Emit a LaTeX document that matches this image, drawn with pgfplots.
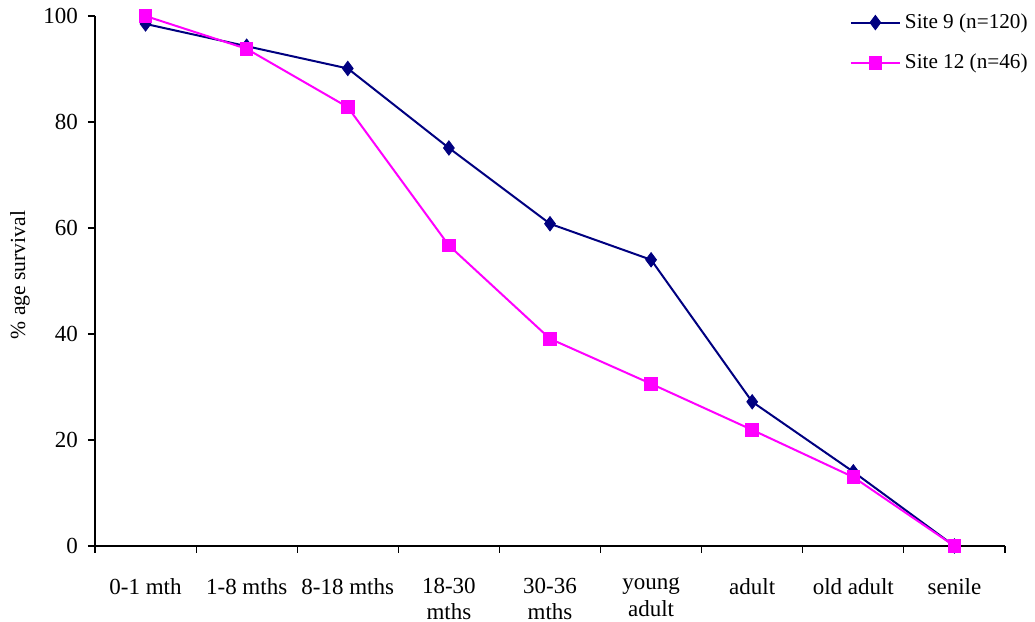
\documentclass[border=0pt]{standalone}
\usepackage{fontspec}
\setmainfont{Liberation Serif}
\usepackage{pgfplots}
\pgfplotsset{compat=1.18}
\definecolor{sitenavy}{RGB}{0,0,128}
\definecolor{sitemag}{RGB}{255,0,255}
\begin{document}
\fontsize{11.5}{13.5}\selectfont
\begin{tikzpicture}
\begin{axis}[
  scale only axis,
  width=455pt, height=265pt,
  xmin=-0.5, xmax=8.5,
  ymin=0, ymax=100,
  axis x line*=bottom,
  axis y line*=left,
  axis line style={line width=0.6pt},
  xtick={0,...,8},
  xticklabels={0-1 mth,1-8 mths,8-18 mths,18-30\\mths,30-36\\mths,young\\adult,adult,old adult,senile},
  xticklabel style={align=center, anchor=north, yshift=-8.5pt, font=\fontsize{11.5}{13.2}\selectfont},
  major x tick style={draw=none},
  minor xtick={-0.5,0.5,...,8.5},
  minor tick length=3.5pt,
  minor x tick style={line width=0.6pt, black},
  ytick={0,20,...,100},
  major tick length=3.5pt,
  tick align=outside,
  tick style={line width=0.6pt, black},
  yticklabel style={font=\fontsize{11.5}{13}\selectfont, xshift=-1pt},
  /pgf/number format/assume math mode=true,
  ylabel={\% age survival},
  ylabel style={font=\fontsize{10.8}{12}\selectfont, at={(rel axis cs:-0.0824,0.511)}, anchor=center},
  legend style={draw=none, fill=none, at={(rel axis cs:0.829,1.013)}, anchor=north west,
    font=\fontsize{10.6}{12}\selectfont, row sep=7.2pt, inner sep=0pt,
    /tikz/every even column/.append style={column sep=2pt}},
  legend cell align=left,
  legend image code/.code={\draw[mark repeat=2,mark phase=2] plot coordinates {(0pt,0pt)(12.3pt,0pt)(24.6pt,0pt)};},
  clip=false,
]
\addplot[color=sitenavy, line width=1pt, mark=diamond*, mark size=3.6pt, mark options={fill=sitenavy, draw=sitenavy, line width=0.4pt}]
  coordinates {(0,98.5) (1,94.3) (2,90.1) (3,75.1) (4,60.8) (5,54.0) (6,27.2) (7,14.0) (8,0)};
\addlegendentry{Site 9 (n=120)}
\addplot[color=sitemag, line width=1pt, mark=square*, mark size=2.9pt, mark options={fill=sitemag, draw=sitemag}]
  coordinates {(0,100) (1,93.8) (2,82.8) (3,56.7) (4,39.1) (5,30.6) (6,21.9) (7,13.0) (8,0)};
\addlegendentry{Site 12 (n=46)}
\coordinate (bbl) at (rel axis cs:-0.1044,-0.1434);
\coordinate (btr) at (rel axis cs:1.033,1.0302);
\end{axis}
\pgfresetboundingbox
\path (bbl) rectangle (btr);
\end{tikzpicture}
\end{document}
